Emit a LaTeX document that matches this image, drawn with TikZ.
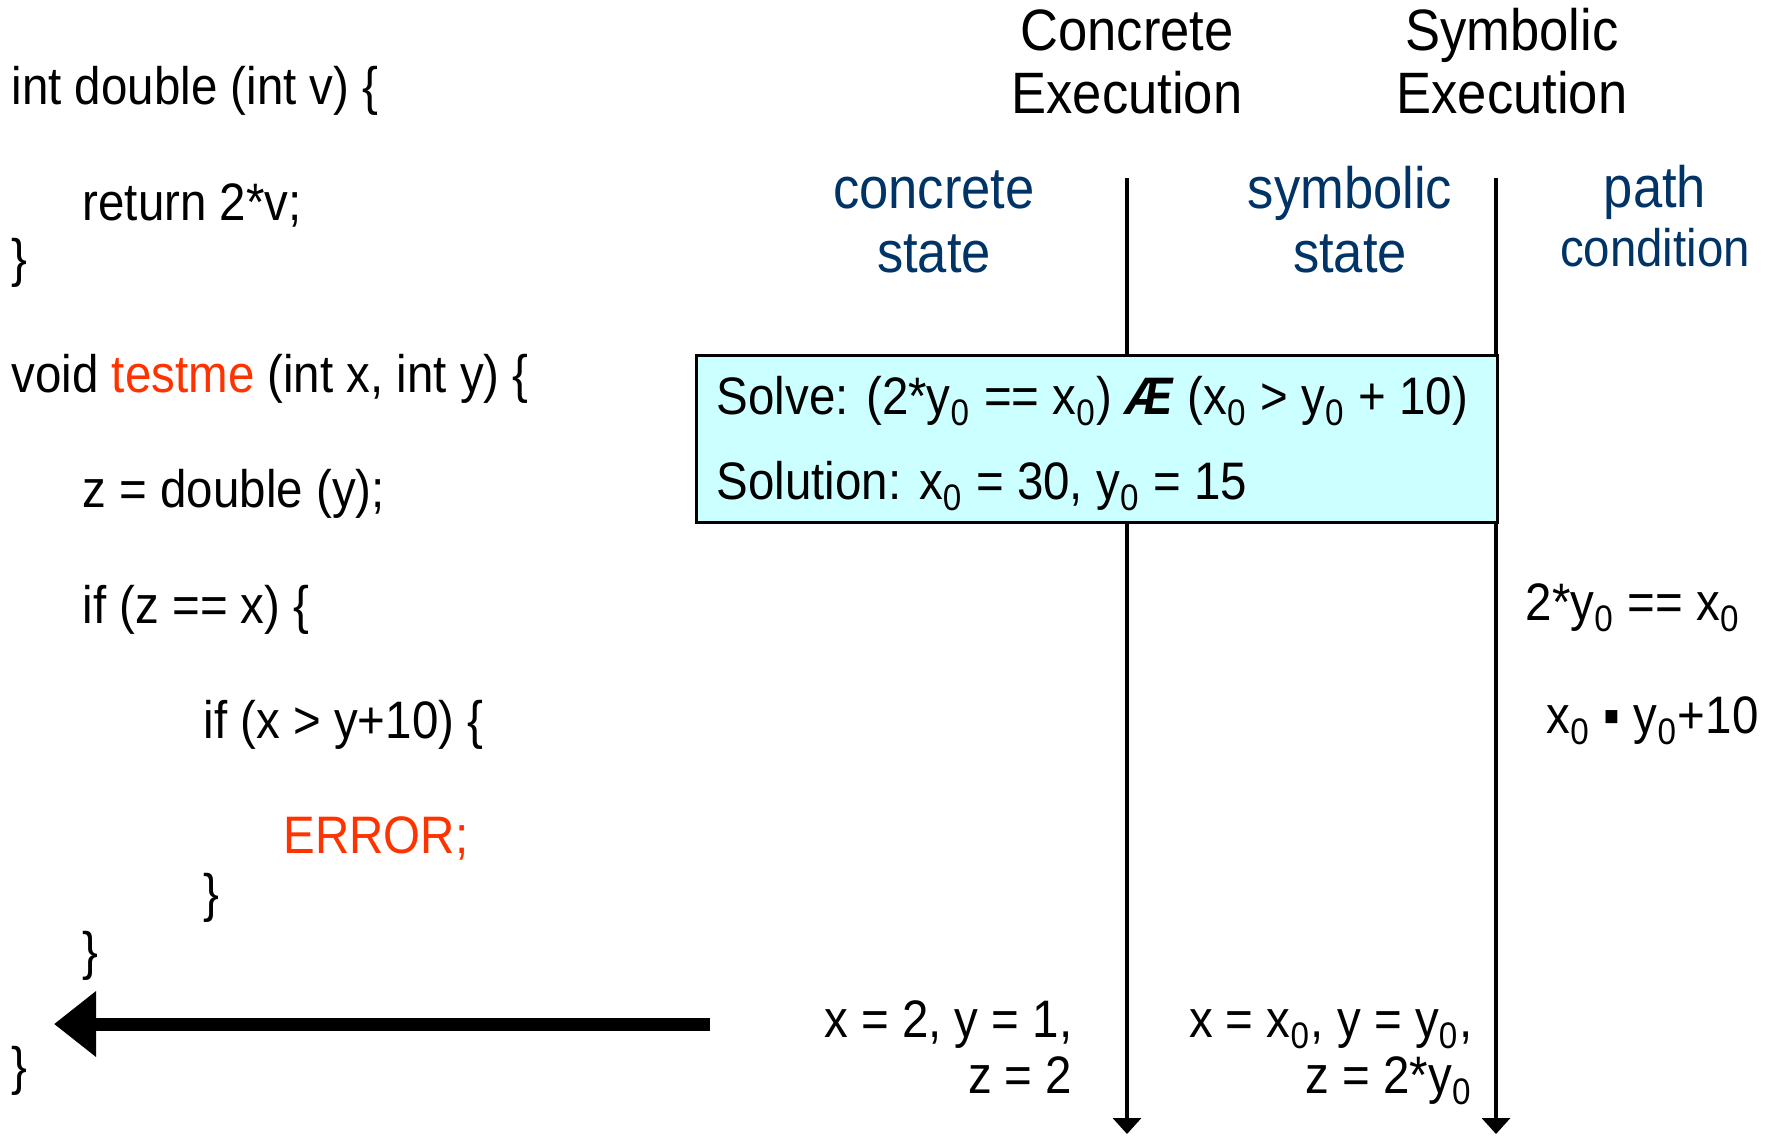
\documentclass[tikz,border=0pt]{standalone}
\usepackage{fontspec}
\setmainfont[FakeStretch=0.9]{Liberation Sans}
\usetikzlibrary{arrows.meta,positioning}

\definecolor{errred}{RGB}{255,51,0}
\definecolor{stateblue}{RGB}{0,51,102}
\definecolor{solvecyan}{RGB}{204,255,255}
\newcommand{\zs}{\raisebox{-0.12ex}{\textsubscript{0}}}

\begin{document}
\begin{tikzpicture}[x=0.01cm,y=-0.01cm,
  code/.style={anchor=base west,inner sep=0pt,font=\fontsize{15}{18}\selectfont},
  head/.style={anchor=base,inner sep=0pt,align=center,font=\fontsize{16.6}{17.9}\selectfont},
  statelbl/.style={anchor=base,inner sep=0pt,align=center,text=stateblue,font=\fontsize{16.6}{18.1}\selectfont},
  vals/.style={anchor=base east,inner sep=0pt,align=right,font=\fontsize{15}{15.9}\selectfont},
  timeline/.style={line width=1pt,-{Triangle[length=1.6mm,width=2.8mm]}},
  bigarrow/.style={line width=3.7pt,-{Triangle[length=4.2mm,width=6.3mm]}},
  solvebox/.style={draw,line width=0.8pt,fill=solvecyan,anchor=north west,inner sep=0pt,minimum width=8.01cm,minimum height=1.67cm}]
  \useasboundingbox (0,0) rectangle (1767,1136);

  % program
  \node[code] (fdecl) at (11,104) {int double (int v) \{};
  \node[code] (fret) at (82,220) {return 2*v;};
  \node[code] (fclose) at (11,276) {\}};
  \node[code] (tdecl) at (11,392) {void \textcolor{errred}{testme} (int x, int y) \{};
  \node[code] (zassign) at (82,507) {z = double (y);};
  \node[code] (ifeq) at (82,623) {if (z == x) \{};
  \node[code] (ifgt) at (203,738) {if (x > y+10) \{};
  \node[code,text=errred] (err) at (283,853) {ERROR;};
  \node[code] (ifgtclose) at (203,911) {\}};
  \node[code] (ifeqclose) at (82,969) {\}};
  \node[code] (tclose) at (11,1084) {\}};

  % columns (base = last line)
  \node[head] (concexec) at (1127,113) {Concrete\\Execution};
  \node[head] (symexec) at (1512,113) {Symbolic\\Execution};
  \node[statelbl] (cstate) at (934,272) {concrete\\state};
  \node[statelbl] (sstate) at (1350,272) {symbolic\\state};
  \node[statelbl,font=\fontsize{16.6}{16.5}\selectfont] (pathcond) at (1655,266) {path\\{\fontsize{15}{16.5}\selectfont condition}};

  \coordinate (ctop) at (1127,178);
  \coordinate (cbot) at (1127,1134);
  \coordinate (stop) at (1496,178);
  \coordinate (sbot) at (1496,1134);
  \draw[timeline] (ctop) -- (cbot);
  \draw[timeline] (stop) -- (sbot);

  % solver
  \node[solvebox] (solve) at (695,354) {};
  \node[code] (solveeq) at (716,414) {Solve: (2*y\zs{} == x\zs) \textbf{\textit{Æ}} (x\zs{} > y\zs{} + 10)};
  \node[code] (solution) at (716,499) {Solution: x\zs{} = 30, y\zs{} = 15};

  % path condition
  \node[code] (pceq) at (1525,620) {2*y\zs{} == x\zs};
  \node[code] (pcgt) at (1546,733) {x\zs{} ▪ y\zs+10};

  % states
  \node[vals] (cvals) at (1073,1093) {x = 2, y = 1,\\z = 2};
  \node[vals] (svals) at (1473,1093) {x = x\zs, y = y\zs,\\z = 2*y\zs};

  \coordinate (arrstart) at (710,1024);
  \coordinate (arrend) at (54,1024);
  \draw[bigarrow] (arrstart) -- (arrend);
\end{tikzpicture}
\end{document}
